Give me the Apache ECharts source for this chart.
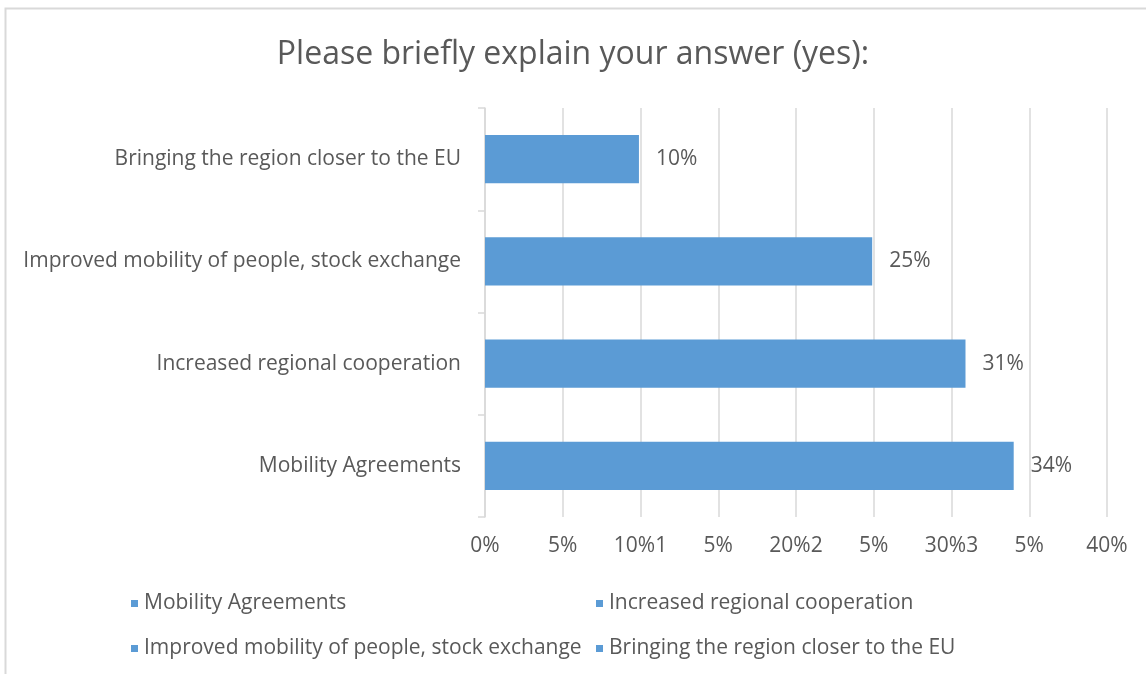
<!DOCTYPE html>
<html>
<head>
<meta charset="utf-8">
<script src="https://cdn.jsdelivr.net/npm/echarts@6/dist/echarts.min.js"></script>
<style>
  html, body { margin: 0; padding: 0; background: #fff; }
  #chart { width: 1146px; height: 674px; }
</style>
</head>
<body>
<div id="chart"></div>
<script>
// categories, bottom to top as drawn
var categories = [
  "Mobility Agreements",
  "Increased regional cooperation",
  "Improved mobility of people, stock exchange",
  "Bringing the region closer to the EU"
];
var shares = [34.0, 30.9, 24.9, 9.9];
var xTickLabels = ["0%", "5%", "10%1", "5%", "20%2", "5%", "30%3", "5%", "40%"];

var blue = "#5B9BD5";
var grey = "#595959";
var gridGrey = "#D9D9D9";
var font = "Open Sans";

var chart = echarts.init(document.getElementById("chart"));

// one series per category so the legend lists each of them
var series = categories.map(function (name, i) {
  return {
    name: name,
    type: "bar",
    stack: "all",
    barWidth: "47%",
    itemStyle: { color: blue },
    label: {
      show: true,
      position: "right",
      distance: 17,
      color: grey,
      fontFamily: font,
      fontSize: 21,
      formatter: function (p) {
        return Math.round(p.value) + "%";
      },
    },
    data: shares.map(function (v, j) {
      return j === i ? v : "-";
    }),
  };
});

var legendPos = [
  { left: 126, top: 588 },
  { left: 591, top: 588 },
  { left: 126, top: 633 },
  { left: 591, top: 633 },
];
var legends = categories.map(function (name, i) {
  return {
    left: legendPos[i].left,
    top: legendPos[i].top,
    data: [name],
    icon: "rect",
    itemWidth: 7,
    itemHeight: 7,
    selectedMode: false,
    textStyle: {
      color: grey,
      fontFamily: font,
      fontSize: 21,
      padding: [0, 0, 0, 1],
    },
  };
});

chart.setOption({
  animation: false,
  title: {
    text: "Please briefly explain your answer (yes):",
    left: "center",
    top: 34,
    textStyle: {
      color: grey,
      fontFamily: font,
      fontSize: 32,
      fontWeight: "normal",
    },
  },
  graphic: [
    {
      type: "rect",
      shape: { x: 5.5, y: 8.5, width: 1300, height: 800 },
      style: { fill: null, stroke: gridGrey, lineWidth: 2 },
      silent: true,
    },
  ],
  legend: legends,
  grid: {
    left: 485,
    right: 39,
    top: 108,
    bottom: 157,
  },
  xAxis: {
    type: "value",
    min: 0,
    max: 40,
    interval: 5,
    axisLine: { show: false },
    axisTick: { show: false },
    splitLine: { lineStyle: { color: gridGrey, width: 1.5 } },
    axisLabel: {
      color: grey,
      fontFamily: font,
      fontSize: 21,
      margin: 19,
      formatter: function (v, i) {
        return xTickLabels[i];
      },
    },
  },
  yAxis: {
    type: "category",
    data: categories,
    axisLine: { lineStyle: { color: gridGrey, width: 1.5 } },
    axisTick: { show: true, length: 7, lineStyle: { color: gridGrey, width: 1.5 } },
    axisLabel: {
      color: grey,
      fontFamily: font,
      fontSize: 21,
      margin: 24,
    },
  },
  series: series,
});
</script>
</body>
</html>
